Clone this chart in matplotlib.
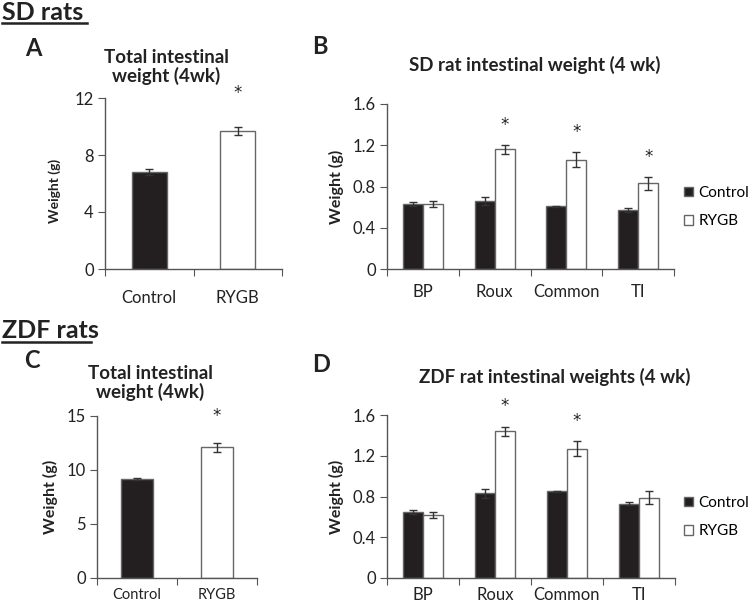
import numpy as np
import matplotlib.pyplot as plt

plt.rcParams['font.family'] = ['Lato', 'DejaVu Sans']

# panel A / C : totals
total_groups = ['Control', 'RYGB']
sd_total = [6.8, 9.7]
sd_total_err = [0.2, 0.3]
zdf_total = [9.2, 12.1]
zdf_total_err = [0.1, 0.4]

# panel B / D : segments
segments = ['BP', 'Roux', 'Common', 'TI']
sd_ctrl = [0.63, 0.66, 0.61, 0.57]
sd_ctrl_err = [0.02, 0.035, 0.005, 0.02]
sd_rygb = [0.63, 1.16, 1.06, 0.83]
sd_rygb_err = [0.025, 0.04, 0.07, 0.06]
sd_star = [False, True, True, True]

zdf_ctrl = [0.65, 0.83, 0.85, 0.73]
zdf_ctrl_err = [0.02, 0.04, 0.005, 0.015]
zdf_rygb = [0.62, 1.44, 1.27, 0.79]
zdf_rygb_err = [0.03, 0.045, 0.07, 0.06]
zdf_star = [False, True, True, False]

W, H = 750, 606
fig = plt.figure(figsize=(7.5, 6.06), dpi=100)

AX_COL = '#555555'
BAR_EDGE = '#666666'
ERR_COL = '#333333'
TXT = '#222222'


def px_axes(l, r, t, b):
    return fig.add_axes([l / W, 1 - b / H, (r - l) / W, (b - t) / H])


def fx(x):
    return x / W


def fy(y):
    return 1 - y / H


def style(ax, n, labels, yticks, ylabels, xfs, xpad, ylfs):
    for s in ['top', 'right']:
        ax.spines[s].set_visible(False)
    for s in ['left', 'bottom']:
        ax.spines[s].set_color(AX_COL)
        ax.spines[s].set_linewidth(1.0)
    ax.set_xlim(-0.5, n - 0.5)
    ax.set_xticks(np.arange(n + 1) - 0.5)
    ax.set_xticklabels([])
    ax.tick_params(axis='x', which='major', direction='out', length=5, color=AX_COL)
    ax.set_xticks(np.arange(n), minor=True)
    ax.set_xticklabels(labels, minor=True, fontsize=xfs, color=TXT)
    ax.tick_params(axis='x', which='minor', length=0, pad=xpad)
    ax.set_yticks(yticks)
    ax.set_yticklabels(ylabels, fontsize=12, color=TXT)
    ax.set_ylim(yticks[0], yticks[-1])
    ax.tick_params(axis='y', direction='out', length=5, color=AX_COL, pad=3)
    ax.set_ylabel('Weight (g)', fontsize=ylfs, fontweight='bold', labelpad=6, color=TXT)
    ax.patch.set_alpha(0)


def star(ax, x, y):
    ax.text(x, y, '*', ha='center', va='center', fontsize=12, color=TXT,
            family='DejaVu Sans', clip_on=False)


def total_panel(ax, vals, errs, yticks, ylabels, star_off, xfs, xpad, ylfs):
    x = np.arange(2)
    ax.bar(x, vals, width=0.4, color=['#231f20', 'white'], edgecolor=BAR_EDGE,
           linewidth=1.0, zorder=2)
    ax.errorbar(x, vals, yerr=errs, fmt='none', ecolor=ERR_COL, elinewidth=1,
                capsize=3, capthick=1, zorder=3)
    star(ax, 1, vals[1] + errs[1] + star_off)
    style(ax, 2, total_groups, yticks, ylabels, xfs, xpad, ylfs)


def segment_panel(ax, c, ce, r, re, stars, xpad, leg_y):
    x = np.arange(4)
    w = 0.28
    ax.bar(x - w / 2, c, width=w, color='#231f20', edgecolor=BAR_EDGE,
           linewidth=1.0, zorder=2, label='Control')
    ax.bar(x + w / 2, r, width=w, color='white', edgecolor=BAR_EDGE,
           linewidth=1.0, zorder=2, label='RYGB')
    ax.errorbar(x - w / 2, c, yerr=ce, fmt='none', ecolor=ERR_COL, elinewidth=1,
                capsize=3, capthick=1, zorder=3)
    ax.errorbar(x + w / 2, r, yerr=re, fmt='none', ecolor=ERR_COL, elinewidth=1,
                capsize=3, capthick=1, zorder=3)
    for i, s in enumerate(stars):
        if s:
            star(ax, x[i] + w / 2, r[i] + re[i] + 0.2)
    style(ax, 4, segments, [0, 0.4, 0.8, 1.2, 1.6], ['0', '0.4', '0.8', '1.2', '1.6'],
          12, xpad, 11.5)
    ax.legend(loc='center left', bbox_to_anchor=(fx(684), fy(leg_y)),
              bbox_transform=fig.transFigure, frameon=False,
              fontsize=11, handlelength=0.6, handleheight=0.6,
              handletextpad=0.35, labelspacing=0.95, borderaxespad=0,
              borderpad=0)


axA = px_axes(105, 282, 98, 269)
total_panel(axA, sd_total, sd_total_err, [0, 4, 8, 12], ['0', '4', '8', '12'], 2.35,
            12, 15, 10)
axA.yaxis.set_label_coords(-0.25, 0.455)

axB = px_axes(387, 674, 104, 269)
segment_panel(axB, sd_ctrl, sd_ctrl_err, sd_rygb, sd_rygb_err, sd_star, 11, 207)

axC = px_axes(97, 257, 416, 578)
total_panel(axC, zdf_total, zdf_total_err, [0, 5, 10, 15], ['0', '5', '10', '15'], 2.5,
            10.5, 7, 11.5)

axD = px_axes(387, 675, 415, 578)
segment_panel(axD, zdf_ctrl, zdf_ctrl_err, zdf_rygb, zdf_rygb_err, zdf_star, 6.5, 517)

# panel titles
fig.text(fx(166), fy(67), 'Total intestinal\nweight (4wk)', ha='center', va='center',
         fontsize=13.5, fontweight='bold', linespacing=1.05, color=TXT)
fig.text(fx(150), fy(383), 'Total intestinal\nweight (4wk)', ha='center', va='center',
         fontsize=13.5, fontweight='bold', linespacing=1.1, color=TXT)
fig.text(fx(535), fy(65), 'SD rat intestinal weight (4 wk)', ha='center', va='center',
         fontsize=13.5, fontweight='bold', color=TXT)
fig.text(fx(555), fy(377), 'ZDF rat intestinal weights (4 wk)', ha='center', va='center',
         fontsize=13.5, fontweight='bold', color=TXT)

# section headings and panel letters
fig.text(fx(2), fy(13), 'SD rats', fontsize=18, fontweight='bold', va='center', color=TXT)
fig.add_artist(plt.Line2D([fx(2), fx(87)], [fy(23), fy(23)], color=TXT, lw=1.8))
fig.text(fx(2), fy(330), 'ZDF rats', fontsize=18, fontweight='bold', va='center', color=TXT)
fig.add_artist(plt.Line2D([fx(2), fx(91)], [fy(342), fy(342)], color=TXT, lw=1.8))

for letter, x, y in [('A', 25, 49), ('B', 312, 47), ('C', 24, 361), ('D', 312, 364)]:
    fig.text(fx(x), fy(y), letter, fontsize=17, fontweight='bold', va='center', color=TXT)

plt.savefig('out.png', dpi=100)
